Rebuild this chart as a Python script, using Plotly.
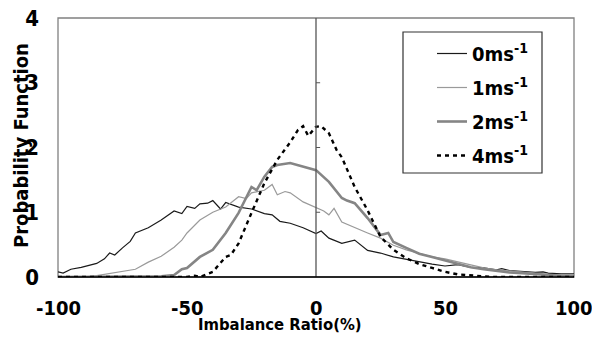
import plotly.graph_objects as go

# ---- data ----
names = ["0ms<sup>-1</sup>", "1ms<sup>-1</sup>", "2ms<sup>-1</sup>", "4ms<sup>-1</sup>"]

x0 = [-100, -98, -95, -91, -85, -82, -80, -78, -75, -72, -70, -65, -60, -57, -55, -52, -50, -47, -45,
      -42, -40, -37, -35, -30, -25, -20, -17, -14, -10, -5, 0, 2, 5, 10, 15, 20, 25, 30, 35, 40, 45,
      50, 55, 60, 65, 70, 72, 75, 80, 85, 88, 90, 95, 100]
y0 = [0.08, 0.06, 0.12, 0.15, 0.21, 0.28, 0.37, 0.34, 0.45, 0.55, 0.68, 0.76, 0.88, 0.96, 1.02, 0.98, 1.09, 1.06, 1.13,
      1.14, 1.18, 1.05, 1.15, 1.08, 1.05, 0.98, 0.96, 0.86, 0.83, 0.76, 0.67, 0.71, 0.6, 0.52, 0.57, 0.41, 0.37, 0.31, 0.27, 0.23, 0.2,
      0.17, 0.19, 0.15, 0.14, 0.11, 0.13, 0.1, 0.08, 0.07, 0.08, 0.06, 0.05, 0.05]

x1 = [-100, -90, -85, -80, -75, -70, -65, -60, -55, -52, -50, -45, -40, -35, -30, -27, -25, -20, -17, -15,
      -12, -10, -5, 0, 3, 5, 7, 10, 15, 20, 25, 30, 35, 40, 45, 50, 55, 60, 65, 70, 75, 80, 85, 90, 95, 100]
y1 = [0.0, 0.0, 0.02, 0.05, 0.08, 0.12, 0.23, 0.32, 0.46, 0.57, 0.68, 0.88, 1.0, 1.08, 1.24, 1.21, 1.3, 1.34, 1.43, 1.27,
      1.32, 1.3, 1.16, 1.08, 1.02, 0.96, 1.06, 0.85, 0.76, 0.68, 0.6, 0.49, 0.42, 0.37, 0.31, 0.28, 0.23, 0.18, 0.14, 0.11, 0.09, 0.07, 0.05, 0.04, 0.03, 0.03]

x2 = [-100, -80, -70, -65, -60, -55, -52, -50, -45, -40, -35, -30, -25, -23, -20, -17, -15, -10, -5, 0,
      5, 10, 12, 15, 20, 25, 28, 30, 35, 40, 45, 50, 55, 60, 65, 70, 75, 80, 85, 90, 95, 100]
y2 = [0.0, 0.0, 0.0, 0.01, 0.01, 0.03, 0.12, 0.14, 0.31, 0.42, 0.68, 0.99, 1.39, 1.34, 1.55, 1.7, 1.73, 1.76, 1.7, 1.65,
      1.47, 1.22, 1.18, 1.14, 0.91, 0.65, 0.68, 0.54, 0.45, 0.36, 0.31, 0.26, 0.2, 0.15, 0.12, 0.09, 0.07, 0.06, 0.04, 0.03, 0.02, 0.02]

x4 = [-100, -60, -50, -47, -45, -40, -35, -33, -30, -25, -20, -15, -10, -7, -5, -3, 0, 2, 5, 8,
      10, 15, 20, 25, 30, 35, 40, 45, 50, 55, 60, 65, 70, 100]
y4 = [0.0, 0.0, 0.0, 0.02, 0.0, 0.08, 0.31, 0.34, 0.52, 0.99, 1.45, 1.81, 2.08, 2.27, 2.33, 2.18, 2.32, 2.33, 2.22, 1.96,
      1.85, 1.39, 1.03, 0.62, 0.42, 0.29, 0.2, 0.14, 0.08, 0.04, 0.02, 0.01, 0.0, 0.0]

x_ticks = [-100, -50, 0, 50, 100]
y_ticks = [0, 1, 2, 3, 4]

FONT = "DejaVu Sans Condensed, Liberation Sans Narrow, Liberation Sans, Arial, sans-serif"

styles = [
    dict(color="#1a1a1a", width=1.2),
    dict(color="#9a9a9a", width=1.2),
    dict(color="#858585", width=2.6),
    dict(color="#000000", width=2.4, dash="4px,4px"),
]

fig = go.Figure()
for i, (xs, ys) in enumerate([(x0, y0), (x1, y1), (x2, y2), (x4, y4)]):
    fig.add_trace(go.Scatter(x=xs, y=ys, mode="lines", name=names[i], line=styles[i],
                             legendgroup=str(i)))

# zero line with small ticks
fig.add_shape(type="line", xref="x", yref="y", x0=0, x1=0, y0=0, y1=4,
              line=dict(color="#555555", width=1.3))
for t in y_ticks[1:-1]:
    fig.add_shape(type="line", xref="x", yref="y", x0=0, x1=1.6, y0=t, y1=t,
                  line=dict(color="#555555", width=1))

# frame
fig.add_shape(type="rect", xref="paper", yref="paper", x0=0, x1=1, y0=0, y1=1,
              line=dict(color="#808080", width=1.3), layer="below")
# x axis line at bottom (black)
fig.add_shape(type="line", xref="paper", yref="paper", x0=0, x1=1, y0=0, y1=0,
              line=dict(color="#000000", width=1.5))

# legend box
fig.add_shape(type="rect", xref="paper", yref="paper",
              x0=(403 - 58) / 516, x1=(542 - 58) / 516,
              y0=(277 - 173) / 259, y1=(277 - 32) / 259,
              line=dict(color="#333333", width=1.2), fillcolor="white", layer="below")

# x tick labels as text placed at tick values
for v in x_ticks:
    fig.add_annotation(text=str(v), xref="x", yref="paper", x=v, y=(277 - 308) / 259,
                       showarrow=False, xanchor="center", yanchor="middle",
                       font=dict(family=FONT, size=20, color="black", weight="bold"))

fig.add_annotation(text="Imbalance Ratio(%)", xref="paper", yref="paper",
                   x=(280 - 58) / 516, y=(277 - 324) / 259, showarrow=False,
                   font=dict(family=FONT, size=16.5, color="black", weight="bold"),
                   xanchor="center", yanchor="middle")
fig.add_annotation(text="Probability Function", xref="paper", yref="paper",
                   x=(21 - 58) / 516, y=(277 - 146) / 259, showarrow=False, textangle=-90,
                   font=dict(family=FONT, size=20, color="black", weight="bold"),
                   xanchor="center", yanchor="middle")

fig.update_layout(
    width=592, height=338,
    margin=dict(l=58, r=18, t=18, b=61),
    paper_bgcolor="white", plot_bgcolor="white",
    showlegend=True,
    legend=dict(x=(432 - 58) / 516, y=(277 - 34) / 259, xanchor="left", yanchor="top",
                bgcolor="rgba(0,0,0,0)", borderwidth=0, tracegroupgap=5,
                font=dict(family=FONT, size=20, color="black", weight="bold")),
    xaxis=dict(range=[-100, 100], tickvals=x_ticks, showticklabels=False,
               showgrid=False, zeroline=False, showline=False, ticks="", automargin=False),
    yaxis=dict(range=[0, 4], tickvals=y_ticks, ticktext=[str(v) for v in y_ticks],
               showgrid=False, zeroline=False, showline=False, ticks="", automargin=False,
               ticklabelstandoff=18,
               tickfont=dict(family=FONT, size=22, color="black", weight="bold")),
)

fig.write_html("out.html")
